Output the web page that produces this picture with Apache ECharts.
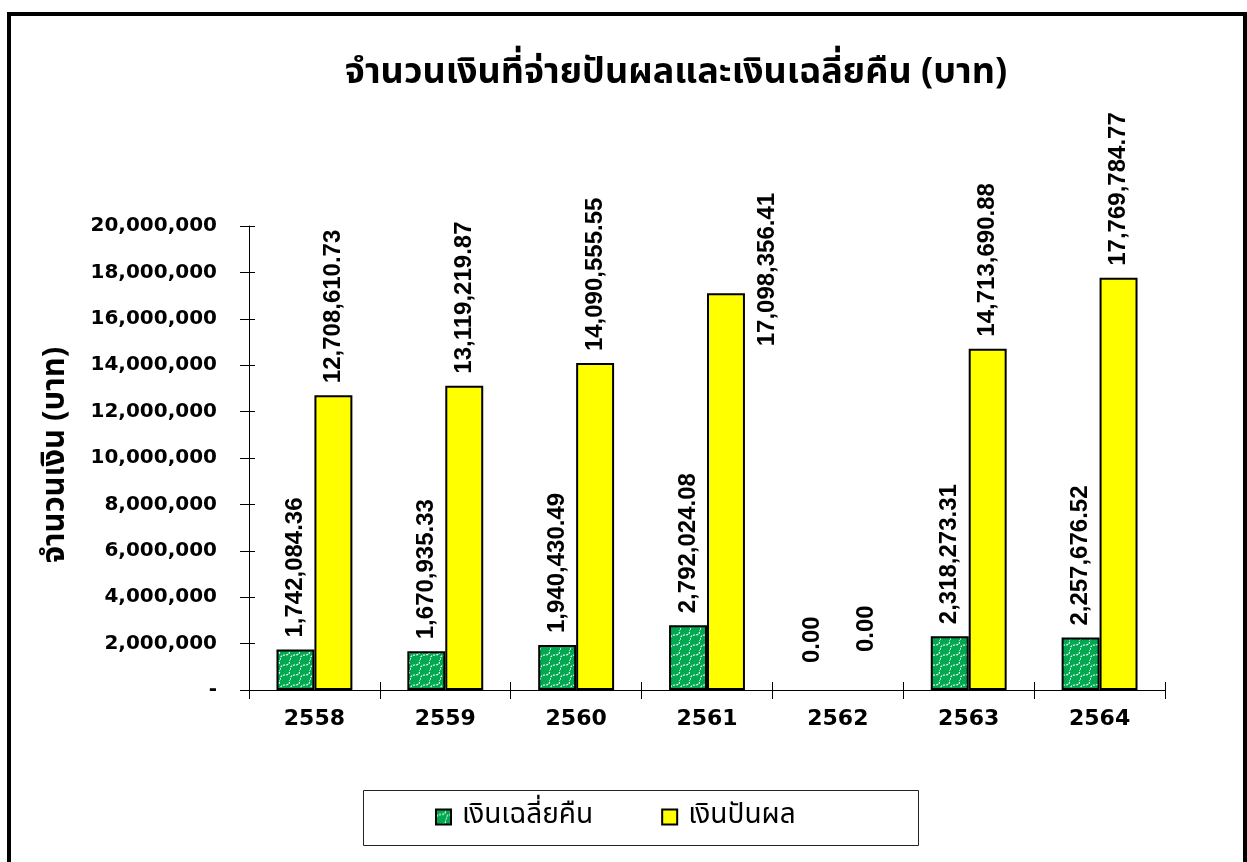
<!DOCTYPE html>
<html>
<head>
<meta charset="utf-8">
<script src="https://cdn.jsdelivr.net/npm/echarts@6/dist/echarts.min.js"></script>
<style>html,body{margin:0;padding:0;background:#fff}#c{width:1247px;height:862px}</style>
</head>
<body>
<div id="c"></div>
<script>
const categories = ['2558', '2559', '2560', '2561', '2562', '2563', '2564'];
const refundValues = [1742084.36, 1670935.33, 1940430.49, 2792024.08, 0, 2318273.31, 2257676.52];
const dividendValues = [12708610.73, 13119219.87, 14090555.55, 17098356.41, 0, 14713690.88, 17769784.77];
const seriesNames = ['เงินเฉลี่ยคืน', 'เงินปันผล'];
const titleText = 'จำนวนเงินที่จ่ายปันผลและเงินเฉลี่ยคืน (บาท)';
const yAxisTitle = 'จำนวนเงิน (บาท)';

const THAI = '"Noto Sans Thai", "Tahoma", "Noto Sans", "DejaVu Sans", sans-serif';

function makePattern() {
  const c = document.createElement('canvas');
  c.width = 10; c.height = 10;
  const g = c.getContext('2d');
  g.fillStyle = '#00A84F';
  g.fillRect(0, 0, 10, 10);
  g.strokeStyle = '#ffffff';
  g.lineWidth = 1.2;
  g.setLineDash([2, 1]);
  g.beginPath();
  g.moveTo(0, 10);
  g.quadraticCurveTo(0, 5, 5, 5);
  g.quadraticCurveTo(10, 5, 10, 0);
  g.stroke();
  return c;
}

const fmt = v => v.toLocaleString('en-US', {minimumFractionDigits: 2, maximumFractionDigits: 2});

// label adjustments in the label's rotated frame [along text, across text]
const refundLabelAdjust = {4: [15, -7]};
const dividendLabelAdjust = {3: [-65, 41], 4: [26, 10]};

function buildData(values, adjust) {
  return values.map((v, i) => {
    const item = {value: v};
    if (adjust[i]) item.label = {offset: adjust[i]};
    if (v === 0) item.itemStyle = {borderWidth: 0};
    return item;
  });
}

const labelStyle = {
  show: true,
  position: 'top',
  rotate: 90,
  align: 'left',
  verticalAlign: 'middle',
  distance: 12,
  fontFamily: '"Liberation Sans", Arial, sans-serif',
  fontWeight: 'bold',
  fontSize: 24,
  color: '#000',
  formatter: p => fmt(p.value)
};

const chart = echarts.init(document.getElementById('c'), null, {renderer: 'canvas'});
chart.setOption({
  animation: false,
  backgroundColor: '#fff',
  grid: {left: 249, right: 82, top: 226, bottom: 172},
  graphic: [
    {type: 'rect', shape: {x: 9, y: 14, width: 1236, height: 900}, style: {fill: 'none', stroke: '#000', lineWidth: 4}, z: 100},
    {type: 'rect', shape: {x: 363.5, y: 790.5, width: 555, height: 55}, style: {fill: 'none', stroke: '#222', lineWidth: 1}},
    {type: 'text', x: 676, y: 58, style: {text: titleText, font: 'bold 36px ' + THAI, fill: '#000', textAlign: 'center'}},
    {type: 'text', x: 58, y: 455, rotation: Math.PI / 2, style: {text: yAxisTitle, font: 'bold 31px ' + THAI, fill: '#000', textAlign: 'center', textVerticalAlign: 'middle'}}
  ],
  legend: {
    left: 430, top: 798,
    itemWidth: 15, itemHeight: 15, itemGap: 68,
    icon: 'rect',
    textStyle: {fontFamily: THAI, fontSize: 28, color: '#000', padding: [0, 0, 0, 6]},
    data: seriesNames
  },
  xAxis: [
    {
      type: 'category', data: categories, position: 'bottom',
      axisLine: {lineStyle: {color: '#000', width: 1}},
      axisTick: {show: true, length: 9, lineStyle: {color: '#000'}},
      axisLabel: {fontFamily: '"DejaVu Sans", sans-serif', fontWeight: 'bold', fontSize: 22, color: '#000', margin: 18}
    },
    {
      type: 'category', data: categories, position: 'bottom',
      axisLine: {show: false},
      axisTick: {show: true, inside: true, length: 8, lineStyle: {color: '#000'}},
      axisLabel: {show: false}
    }
  ],
  yAxis: [
    {
      type: 'value', min: 0, max: 20000000, interval: 2000000,
      axisLine: {show: true, lineStyle: {color: '#000', width: 1}},
      axisTick: {show: true, length: 9, lineStyle: {color: '#000'}},
      splitLine: {show: false},
      axisLabel: {
        fontFamily: '"DejaVu Sans", sans-serif', fontWeight: 'bold', fontSize: 20, color: '#000', margin: 32,
        formatter: v => v === 0 ? '-' : v.toLocaleString('en-US')
      }
    },
    {
      type: 'value', min: 0, max: 20000000, interval: 2000000, position: 'left',
      axisLine: {show: false},
      axisTick: {show: true, inside: true, length: 6, lineStyle: {color: '#000'}},
      splitLine: {show: false},
      axisLabel: {show: false}
    }
  ],
  series: [
    {
      name: seriesNames[0], type: 'bar', xAxisIndex: 0, yAxisIndex: 0,
      barGap: '0%', barCategoryGap: '42%',
      itemStyle: {color: {image: makePattern(), repeat: 'repeat'}, borderColor: '#000', borderWidth: 2},
      label: labelStyle,
      data: buildData(refundValues, refundLabelAdjust)
    },
    {
      name: seriesNames[1], type: 'bar', xAxisIndex: 0, yAxisIndex: 0,
      itemStyle: {color: '#FFFF00', borderColor: '#000', borderWidth: 2},
      label: labelStyle,
      data: buildData(dividendValues, dividendLabelAdjust)
    }
  ]
});
</script>
</body>
</html>
